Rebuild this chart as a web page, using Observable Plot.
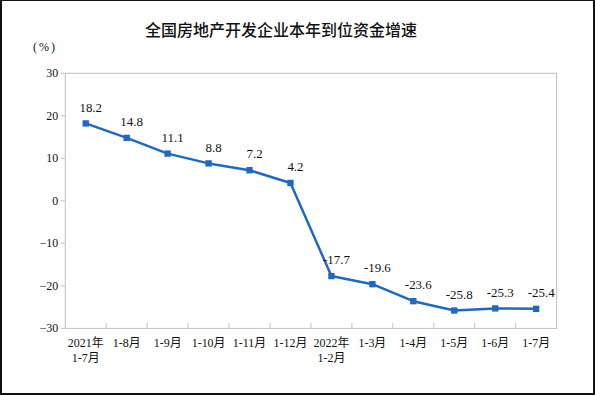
<!DOCTYPE html>
<html><head><meta charset="utf-8">
<script src="https://cdn.jsdelivr.net/npm/d3@7"></script>
<script src="https://cdn.jsdelivr.net/npm/@observablehq/plot@0.6"></script>
<style>
html,body{margin:0;padding:0;background:#fff}
#wrap{position:relative;width:595px;height:395px;box-sizing:border-box;border:2px solid #111;border-top-width:1px;overflow:hidden;background:#fff}
#title{position:absolute;left:0;width:558px;top:17px;text-align:center;font:500 16px "Noto Sans CJK SC",sans-serif;color:#111;line-height:23px}
#unit{position:absolute;left:31px;top:39px;font:12px "Liberation Serif","Noto Sans CJK SC",serif;color:#111;letter-spacing:2px}
#chart{position:absolute;left:-2px;top:-1px}
</style></head>
<body>
<div id="wrap">
<div id="chart"></div>
<div id="title">全国房地产开发企业本年到位资金增速</div>
<div id="unit">(%)</div>
</div>
<script>
const categories = ["2021年\n1-7月","1-8月","1-9月","1-10月","1-11月","1-12月","2022年\n1-2月","1-3月","1-4月","1-5月","1-6月","1-7月"];
const values = [18.2,14.8,11.1,8.8,7.2,4.2,-17.7,-19.6,-23.6,-25.8,-25.3,-25.4];
const yTicks = [-30,-20,-10,0,10,20,30];

const data = categories.map((c,i)=>({i:i+0.5, c, v:values[i]}));
const blue = "#1f69c3";
const plot = Plot.plot({
  width:595, height:395,
  marginLeft:65, marginRight:37, marginTop:73, marginBottom:66,
  x:{domain:[0,categories.length], axis:null},
  y:{domain:[-30,30], axis:null},
  style:{fontFamily:"'Liberation Serif','Noto Sans CJK SC',serif", fontSize:"12px", color:"#111", background:"transparent"},
  marks:[
    Plot.frame({stroke:"#bfbfbf"}),
    Plot.axisY({ticks:yTicks, tickSize:4, tickPadding:3, stroke:"#bfbfbf", fill:"#111", fontSize:12, label:null}),
    Plot.axisX(d3.range(1,categories.length), {tickSize:-5, tickFormat:()=>"", stroke:"#bfbfbf", label:null}),
    Plot.text(data,{x:"i", text:"c", frameAnchor:"bottom", lineAnchor:"top", dy:8, lineHeight:1.25, fontSize:12, fill:"#111"}),
    Plot.line(data,{x:"i", y:"v", stroke:blue, strokeWidth:2.5}),
    Plot.dot(data,{x:"i", y:"v", symbol:"square", r:3.6, fill:blue}),
    Plot.text(data,{x:"i", y:"v", text:d=>d.v.toFixed(1), dx:5, dy:-16, fontSize:13, fill:"#111"})
  ]
});
document.getElementById("chart").appendChild(plot);
</script>
</body></html>
